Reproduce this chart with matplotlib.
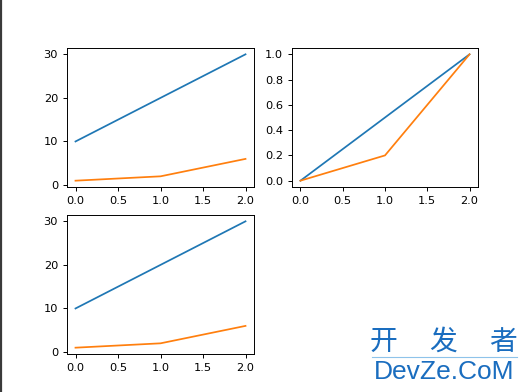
import matplotlib.pyplot as plt
from matplotlib.lines import Line2D

x = [0, 1, 2]
y1 = [10, 20, 30]
y2 = [1, 2, 6]
# min-max scaled versions shown in the top-right panel
y1_norm = [0.0, 0.5, 1.0]
y2_norm = [0.0, 0.2, 1.0]

plt.rcParams['font.size'] = 8.2
plt.rcParams['lines.linewidth'] = 1.25
plt.rcParams['axes.linewidth'] = 0.7
plt.rcParams['xtick.major.width'] = 0.7
plt.rcParams['ytick.major.width'] = 0.7
plt.rcParams['xtick.major.size'] = 2.9
plt.rcParams['ytick.major.size'] = 2.9

fig = plt.figure(figsize=(5.27, 3.92), dpi=100)
W, H = 527, 392


def box(l, t, r, b):
    return [l / W, 1 - b / H, (r - l) / W, (b - t) / H]


ax1 = fig.add_axes(box(67, 48, 254, 187))
ax1.plot(x, y1)
ax1.plot(x, y2)

ax2 = fig.add_axes(box(292, 48, 478, 187))
ax2.plot(x, y1_norm)
ax2.plot(x, y2_norm)

ax3 = fig.add_axes(box(67, 215, 254, 354))
ax3.plot(x, y1)
ax3.plot(x, y2)

for ax in (ax1, ax2, ax3):
    ax.set_xticks([0, 0.5, 1.0, 1.5, 2.0])

# dark border on the left edge of the screenshot
fig.add_artist(Line2D([1.2 / W, 1.2 / W], [0, 1], color='#3a3a3a', linewidth=1.6))

# site watermark
wm_blue = '#1a6dbf'
for ch, cx in zip('开发者', [383, 443, 503]):
    fig.text(cx / W, 1 - 342 / H, ch, ha='center', va='center', fontsize=20,
             color=wm_blue, family=['Noto Sans CJK SC', 'DejaVu Sans'])
fig.add_artist(Line2D([372 / W, 517 / W], [1 - 357 / H, 1 - 357 / H],
                      color='#8ec3ea', linewidth=0.8))
fig.text(444.5 / W, 1 - 372 / H, 'DevZe.CoM', ha='center', va='center', fontsize=19,
         color=wm_blue, family='Liberation Sans')

fig.savefig('out.png', dpi=100)
